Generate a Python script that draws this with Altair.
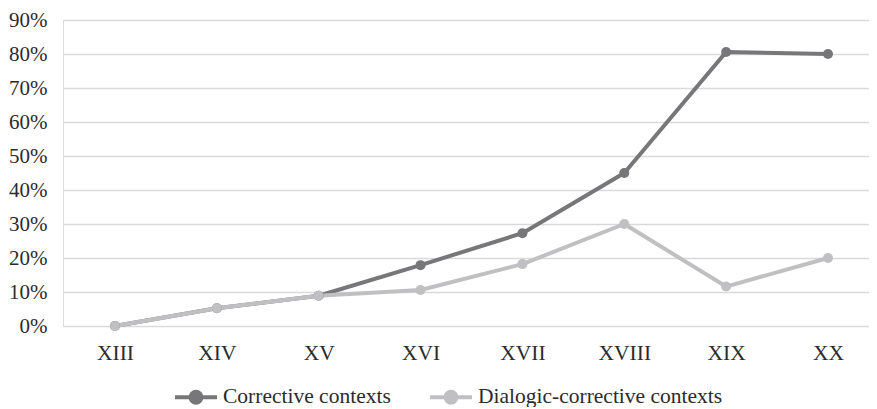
import altair as alt
import pandas as pd

centuries = ["XIII", "XIV", "XV", "XVI", "XVII", "XVIII", "XIX", "XX"]
corrective = [0.0, 0.052, 0.089, 0.179, 0.273, 0.450, 0.806, 0.800]
dialogic = [0.0, 0.052, 0.089, 0.106, 0.182, 0.300, 0.116, 0.200]
series_names = ["Corrective contexts", "Dialogic-corrective contexts"]
series_colors = ["#77777a", "#c0c0c2"]
y_ticks = [0.0, 0.1, 0.2, 0.3, 0.4, 0.5, 0.6, 0.7, 0.8, 0.9]

rows = []
for name, vals in zip(series_names, [corrective, dialogic]):
    for c, v in zip(centuries, vals):
        rows.append({"century": c, "share": v, "series": name})
df = pd.DataFrame(rows)

FONT = "Times New Roman, Liberation Serif, serif"
TXT = "#2b2b2b"
FS = 21.5

legend_path = "M-2.1,0L2.1,0M-0.55,0A0.55,0.55,0,1,1,0.55,0A0.55,0.55,0,1,1,-0.55,0Z"

scale = alt.Scale(domain=series_names, range=series_colors)
legend = alt.Legend(
    title=None,
    orient="none",
    direction="horizontal",
    legendX=121,
    legendY=365,
    symbolType=legend_path,
    symbolSize=400,
    symbolStrokeWidth=4,
    symbolOpacity=1,
    labelFontSize=FS,
    labelFont=FONT,
    labelColor=TXT,
    labelOffset=15,
    labelLimit=400,
    columnPadding=31,
    padding=0,
)

x = alt.X(
    "century:N",
    sort=centuries,
    scale=alt.Scale(type="point", padding=0.4565, align=0.559),
    axis=alt.Axis(
        title=None,
        labelAngle=0,
        ticks=False,
        domain=False,
        grid=False,
        labelFontSize=FS,
        labelFont=FONT,
        labelColor=TXT,
        labelPadding=16,
    ),
)
y = alt.Y(
    "share:Q",
    scale=alt.Scale(domain=[0, 0.9], nice=False),
    axis=alt.Axis(
        title=None,
        values=y_ticks,
        format=".0%",
        ticks=False,
        domain=False,
        grid=True,
        gridColor="#d9d9d9",
        gridWidth=1.5,
        labelFontSize=21,
        labelFont=FONT,
        labelColor=TXT,
        labelPadding=16,
    ),
)

base = alt.Chart(df).encode(x=x, y=y, order=alt.Order("series:N"))
lines = base.mark_line(strokeWidth=4, strokeCap="round", strokeJoin="round").encode(
    stroke=alt.Stroke("series:N", scale=scale, legend=legend)
)
points = base.mark_point(filled=True, size=100, opacity=1).encode(
    fill=alt.Fill("series:N", scale=scale, legend=legend)
)

chart = (
    alt.layer(lines, points)
    .properties(
        width=806,
        height=306,
        autosize=alt.AutoSizeParams(type="none"),
        padding={"left": 55, "top": 12, "right": 0, "bottom": 81},
    )
    .configure_view(stroke=None)
    .configure(background="white", font=FONT)
)

chart.save("out.html", embed_options={"renderer": "svg", "actions": False})
